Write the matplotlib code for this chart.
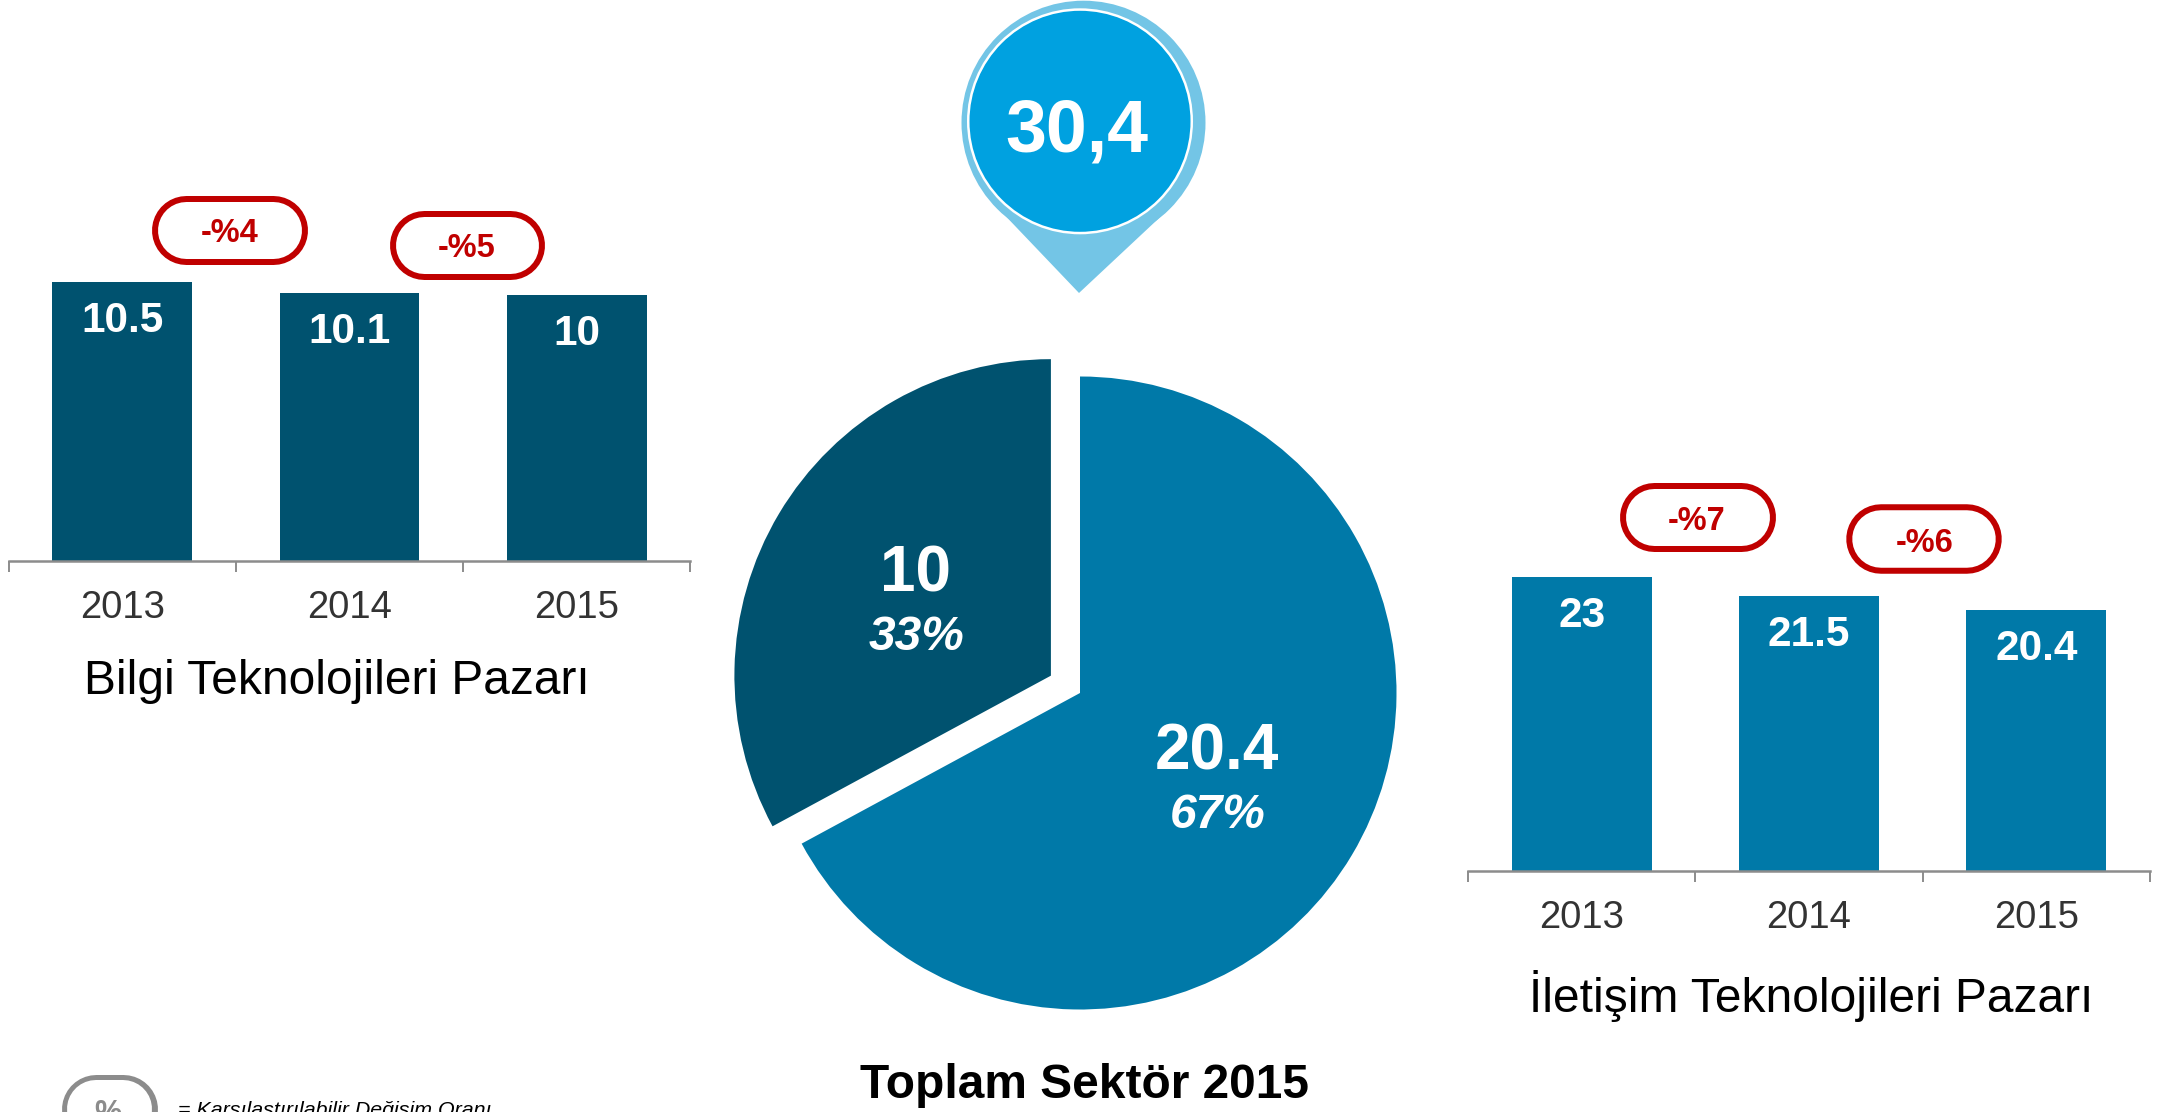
import matplotlib
matplotlib.use("Agg")
import matplotlib.pyplot as plt
from matplotlib.patches import Circle, Polygon

plt.rcParams['font.family'] = ['Liberation Sans', 'DejaVu Sans']

years = ['2013', '2014', '2015']
it_values = [10.5, 10.1, 10]
it_labels = ['10.5', '10.1', '10']
it_changes = ['-%4', '-%5']
comm_values = [23, 21.5, 20.4]
comm_labels = ['23', '21.5', '20.4']
comm_changes = ['-%7', '-%6']
pie_values = [20.4, 10]
pie_value_labels = ['20.4', '10']
pie_share_labels = ['67%', '33%']
total_label = '30,4'

DARK = '#00526F'
MID = '#0079A8'
RED = '#C00000'
W, H = 2165, 1112

fig = plt.figure(figsize=(W / 100, H / 100), dpi=100, facecolor='white')


def px_axes(x0, y_top, x1, y_bot):
    return fig.add_axes([x0 / W, 1 - y_bot / H, (x1 - x0) / W, (y_bot - y_top) / H])


def bar_panel(box, values, labels, colour):
    ax = px_axes(*box)
    ax.bar(range(3), values, width=0.615, color=colour, linewidth=0)
    ax.set_xlim(-0.5, 2.5)
    ax.set_ylim(0, max(values))
    ax.patch.set_alpha(0)
    for s in ('top', 'left', 'right'):
        ax.spines[s].set_visible(False)
    ax.spines['bottom'].set_color('#8C8C8C')
    ax.spines['bottom'].set_linewidth(1.8)
    ax.set_yticks([])
    ax.set_xticks(range(3), labels=years)
    ax.set_xticks([-0.5, 0.5, 1.5, 2.5], minor=True)
    ax.tick_params(axis='x', which='major', length=0, pad=21, labelsize=27.5, labelcolor='#333333')
    ax.tick_params(axis='x', which='minor', length=8, width=1.4, color='#8C8C8C')
    for i, (v, t) in enumerate(zip(values, labels)):
        ax.annotate(t, (i, v), xytext=(0, -28), textcoords='offset points', ha='center',
                    va='center', color='white', fontsize=30.5, fontweight='bold')
    return ax


bar_panel((8.5, 282, 690.5, 561), it_values, it_labels, DARK)
bar_panel((1468, 577, 2150, 871), comm_values, comm_labels, MID)

# pie
pax = px_axes(700, 313, 1460, 1073)
pax.pie(pie_values, startangle=90, counterclock=False, colors=[MID, DARK], explode=[0, 0.107],
        radius=1, wedgeprops={'linewidth': 0})
pax.set_xlim(-380 / 316.5, 380 / 316.5)
pax.set_ylim(-380 / 316.5, 380 / 316.5)
pax.set_position([700 / W, 1 - 1073 / H, 760 / W, 760 / H])

# overlay in pixel space
ov = fig.add_axes([0, 0, 1, 1])
ov.set_xlim(0, W)
ov.set_ylim(H, 0)
ov.axis('off')
ov.patch.set_alpha(0)

PT = 0.72  # points per pixel at 100 dpi


def pill(x0, y0, x1, y1, colour, text=None, tx=None, ty=None, fs=23.5, edge=6):
    r = (y1 - y0) / 2
    yc = (y0 + y1) / 2
    ov.plot([x0 + r, x1 - r], [yc, yc], color=colour, lw=2 * r * PT, solid_capstyle='round')
    ov.plot([x0 + r, x1 - r], [yc, yc], color='white', lw=(2 * r - 2 * edge) * PT, solid_capstyle='round')
    if text:
        ov.text(tx, ty, text, color=colour, fontsize=fs, fontweight='bold', ha='center', va='center')


pill(151, 195, 307, 264, RED, it_changes[0], 229.5, 234)
pill(389, 210, 544, 279, RED, it_changes[1], 467, 248.5)
pill(1619, 482.5, 1775, 551.5, RED, comm_changes[0], 1697, 521)
pill(1846, 504, 2001.5, 573.5, RED, comm_changes[1], 1925, 543)

# panel titles
ov.text(337, 682, 'Bilgi Teknolojileri Pazarı', fontsize=34.5, ha='center', va='center', color='black')
ov.text(1811, 996, 'İletişim Teknolojileri Pazarı', fontsize=34.5, ha='center', va='center', color='black')
ov.text(1084.5, 1086, 'Toplam Sektör 2015', fontsize=34.5, fontweight='bold', ha='center', va='center', color='black')

# pie labels
ov.text(915.6, 574, pie_value_labels[1], color='white', fontsize=46, fontweight='bold', ha='center', va='center')
ov.text(917, 637, pie_share_labels[1], color='white', fontsize=34.5, fontweight='bold', style='italic', ha='center', va='center')
ov.text(1217, 753, pie_value_labels[0], color='white', fontsize=46, fontweight='bold', ha='center', va='center')
ov.text(1218, 815, pie_share_labels[0], color='white', fontsize=34.5, fontweight='bold', style='italic', ha='center', va='center')

# pin
LIGHT = '#73C5E6'
ov.add_patch(Polygon([(996, 206), (1079, 293), (1172, 206), (1083.5, 122.7)], fc=LIGHT, ec='none'))
ov.add_patch(Circle((1083.5, 122.7), 122, fc=LIGHT, ec='none'))
ov.add_patch(Circle((1080, 121.3), 113, fc='white', ec='none'))
ov.add_patch(Circle((1080, 121.3), 110.5, fc='#00A1E0', ec='none'))
ov.text(1077, 151.7, total_label, color='white', fontsize=53, fontweight='bold', ha='center', va='baseline')

# legend key, cut off by the lower edge in the reference
pill(61, 1074, 157, 1143, '#8C8C8C', None, edge=5.5)
ov.text(108, 1122, '%', color='#8C8C8C', fontsize=22, fontweight='bold', ha='center', va='baseline')
ov.text(178, 1115.5, '= Karşılaştırılabilir Değişim Oranı', fontsize=15.4, style='italic', ha='left', va='baseline', color='black')

fig.savefig('out.png', dpi=100, facecolor='white')
